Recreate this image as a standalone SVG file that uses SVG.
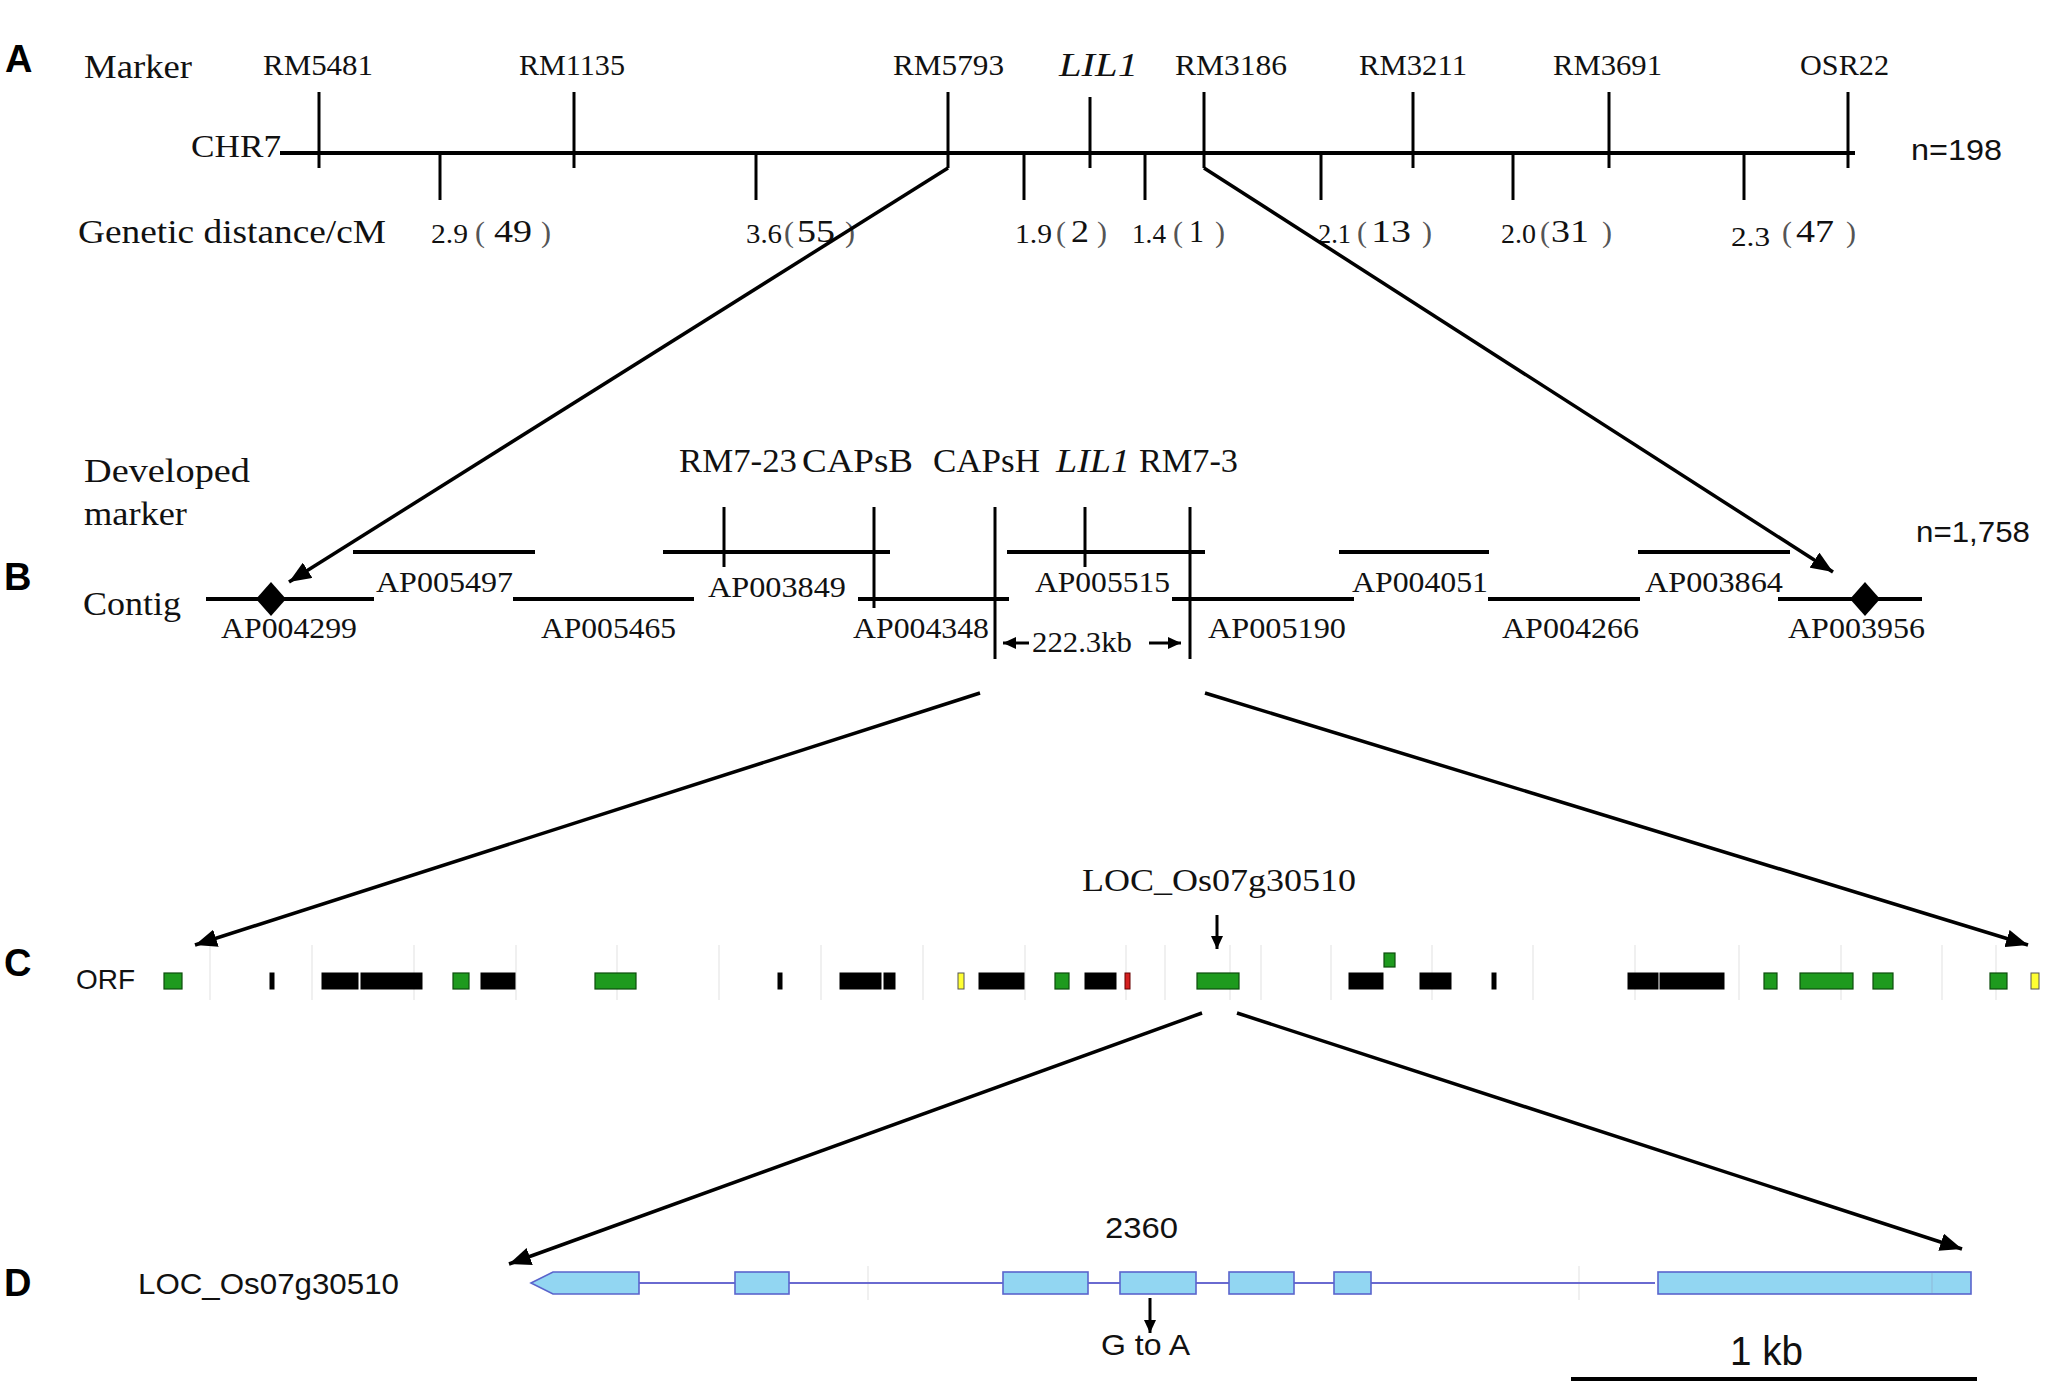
<svg xmlns="http://www.w3.org/2000/svg" width="2057" height="1388" viewBox="0 0 2057 1388">
<defs>
<style>
.serif{font-family:"Liberation Serif","Noto Sans CJK SC",serif;fill:#111}
.sans{font-family:"Liberation Sans","Noto Sans",sans-serif;fill:#111}
.panel{font-family:"Liberation Sans",sans-serif;font-weight:bold;font-size:38px;fill:#000}
.dn{font-family:"Liberation Serif",serif;font-size:27px;fill:#111}
.dp{font-family:"Liberation Serif",serif;font-size:32px;fill:#111}
.pr{font-family:"Liberation Serif",serif;font-size:30px;fill:#555}
.ln{stroke:#000;stroke-width:4;fill:none}
.tk{stroke:#000;stroke-width:3;fill:none}
.con{stroke:#000;stroke-width:3.5;fill:none}
.grid{stroke:#e6e6e6;stroke-width:1.2}
.g{fill:#1e9a1e;stroke:#0d4d0d;stroke-width:1.2}
.k{fill:#000;stroke:#000;stroke-width:1}
.y{fill:#ffff33;stroke:#555;stroke-width:1}
.r{fill:#d42020;stroke:#600;stroke-width:1}
.ex{fill:#92d6f2;stroke:#5a64cc;stroke-width:1.6}
</style>
<marker id="ah" markerUnits="userSpaceOnUse" markerWidth="24" markerHeight="18" refX="22" refY="9" orient="auto"><path d="M0,0 L22,9 L0,18 z" fill="#000"/></marker>
<marker id="as" markerUnits="userSpaceOnUse" markerWidth="14" markerHeight="12" refX="13" refY="6" orient="auto"><path d="M0,0 L13,6 L0,12 z" fill="#000"/></marker>
</defs>
<rect width="2057" height="1388" fill="#fff"/>

<!-- Panel A -->
<g id="panelA">
<text class="panel" x="5" y="72">A</text>
<text class="serif" x="84" y="78" font-size="34" textLength="108" lengthAdjust="spacingAndGlyphs">Marker</text>
<text class="serif" x="281" y="157" font-size="31" text-anchor="end" textLength="90" lengthAdjust="spacingAndGlyphs">CHR7</text>
<text class="serif" x="78" y="243" font-size="33" textLength="308" lengthAdjust="spacingAndGlyphs">Genetic distance/cM</text>
<text class="sans" x="1911" y="160" font-size="30" textLength="91" lengthAdjust="spacingAndGlyphs">n=198</text>
<line id="chr7" class="ln" x1="280" y1="153" x2="1855" y2="153"/>
</g>
<g id="markersA">
<g id="m-RM5481"><text class="serif" x="263" y="75" font-size="30" textLength="110" lengthAdjust="spacingAndGlyphs">RM5481</text><line class="tk" x1="319" y1="92" x2="319" y2="168"/></g>
<g id="m-RM1135"><text class="serif" x="519" y="75" font-size="30" textLength="106" lengthAdjust="spacingAndGlyphs">RM1135</text><line class="tk" x1="574" y1="92" x2="574" y2="168"/></g>
<g id="m-RM5793"><text class="serif" x="893" y="75" font-size="30" textLength="111" lengthAdjust="spacingAndGlyphs">RM5793</text><line class="tk" x1="948" y1="92" x2="948" y2="168"/></g>
<g id="m-LIL1"><text class="serif" x="1059" y="76" font-size="33" font-style="italic" textLength="79" lengthAdjust="spacingAndGlyphs">LIL1</text><line class="tk" x1="1090" y1="97" x2="1090" y2="168"/></g>
<g id="m-RM3186"><text class="serif" x="1175" y="75" font-size="30" textLength="112" lengthAdjust="spacingAndGlyphs">RM3186</text><line class="tk" x1="1204" y1="92" x2="1204" y2="168"/></g>
<g id="m-RM3211"><text class="serif" x="1359" y="75" font-size="30" textLength="108" lengthAdjust="spacingAndGlyphs">RM3211</text><line class="tk" x1="1413" y1="92" x2="1413" y2="168"/></g>
<g id="m-RM3691"><text class="serif" x="1553" y="75" font-size="30" textLength="109" lengthAdjust="spacingAndGlyphs">RM3691</text><line class="tk" x1="1609" y1="92" x2="1609" y2="168"/></g>
<g id="m-OSR22"><text class="serif" x="1800" y="75" font-size="30" textLength="89" lengthAdjust="spacingAndGlyphs">OSR22</text><line class="tk" x1="1848" y1="92" x2="1848" y2="168"/></g>
</g>
<g id="distancesA">
<g id="d1"><line class="tk" x1="440" y1="153" x2="440" y2="200"/><text class="dn" x="431" y="243" textLength="37" lengthAdjust="spacingAndGlyphs">2.9</text><text class="pr" x="475" y="242">(</text><text class="dp" x="494" y="242" textLength="38" lengthAdjust="spacingAndGlyphs">49</text><text class="pr" x="541" y="242">)</text></g>
<g id="d2"><line class="tk" x1="756" y1="153" x2="756" y2="200"/><text class="dn" x="746" y="243" textLength="36" lengthAdjust="spacingAndGlyphs">3.6</text><text class="pr" x="784" y="242">(</text><text class="dp" x="797" y="242" textLength="38" lengthAdjust="spacingAndGlyphs">55</text><text class="pr" x="845" y="242">)</text></g>
<g id="d3"><line class="tk" x1="1024" y1="153" x2="1024" y2="200"/><text class="dn" x="1015" y="243" textLength="37" lengthAdjust="spacingAndGlyphs">1.9</text><text class="pr" x="1056" y="242">(</text><text class="dp" x="1071" y="242" textLength="18" lengthAdjust="spacingAndGlyphs">2</text><text class="pr" x="1097" y="242">)</text></g>
<g id="d4"><line class="tk" x1="1145" y1="153" x2="1145" y2="200"/><text class="dn" x="1132" y="243" textLength="34" lengthAdjust="spacingAndGlyphs">1.4</text><text class="pr" x="1173" y="242">(</text><text class="dp" x="1189" y="242" textLength="15" lengthAdjust="spacingAndGlyphs">1</text><text class="pr" x="1215" y="242">)</text></g>
<g id="d5"><line class="tk" x1="1321" y1="153" x2="1321" y2="200"/><text class="dn" x="1318" y="243" textLength="33" lengthAdjust="spacingAndGlyphs">2.1</text><text class="pr" x="1357" y="242">(</text><text class="dp" x="1371" y="242" textLength="40" lengthAdjust="spacingAndGlyphs">13</text><text class="pr" x="1422" y="242">)</text></g>
<g id="d6"><line class="tk" x1="1513" y1="153" x2="1513" y2="200"/><text class="dn" x="1501" y="243" textLength="35" lengthAdjust="spacingAndGlyphs">2.0</text><text class="pr" x="1540" y="242">(</text><text class="dp" x="1551" y="242" textLength="38" lengthAdjust="spacingAndGlyphs">31</text><text class="pr" x="1602" y="242">)</text></g>
<g id="d7"><line class="tk" x1="1744" y1="153" x2="1744" y2="200"/><text class="dn" x="1731" y="246" textLength="39" lengthAdjust="spacingAndGlyphs">2.3</text><text class="pr" x="1782" y="242">(</text><text class="dp" x="1796" y="242" textLength="38" lengthAdjust="spacingAndGlyphs">47</text><text class="pr" x="1846" y="242">)</text></g>
</g>

<!-- Panel B -->
<g id="panelB">
<text class="panel" x="4" y="590">B</text>
<text class="serif" x="84" y="482" font-size="33" textLength="166" lengthAdjust="spacingAndGlyphs">Developed</text>
<text class="serif" x="84" y="525" font-size="33" textLength="103" lengthAdjust="spacingAndGlyphs">marker</text>
<text class="serif" x="83" y="615" font-size="33" textLength="98" lengthAdjust="spacingAndGlyphs">Contig</text>
<text class="sans" x="1916" y="542" font-size="30" textLength="114" lengthAdjust="spacingAndGlyphs">n=1,758</text>
</g>
<g id="devMarkers">
<g id="dm-RM7-23"><text class="serif" x="679" y="472" font-size="34" textLength="118" lengthAdjust="spacingAndGlyphs">RM7-23</text><line class="tk" x1="724" y1="507" x2="724" y2="567"/></g>
<g id="dm-CAPsB"><text class="serif" x="802" y="472" font-size="34" textLength="111" lengthAdjust="spacingAndGlyphs">CAPsB</text><line class="tk" x1="874" y1="507" x2="874" y2="608"/></g>
<g id="dm-CAPsH"><text class="serif" x="933" y="472" font-size="34" textLength="107" lengthAdjust="spacingAndGlyphs">CAPsH</text><line class="tk" x1="995" y1="507" x2="995" y2="659"/></g>
<g id="dm-LIL1"><text class="serif" x="1056" y="472" font-size="34" font-style="italic" textLength="74" lengthAdjust="spacingAndGlyphs">LIL1</text><line class="tk" x1="1085" y1="507" x2="1085" y2="567"/></g>
<g id="dm-RM7-3"><text class="serif" x="1139" y="472" font-size="34" textLength="99" lengthAdjust="spacingAndGlyphs">RM7-3</text><line class="tk" x1="1190" y1="507" x2="1190" y2="659"/></g>
</g>
<g id="contigs">
<g id="c-AP004299"><line class="ln" x1="206" y1="599" x2="374" y2="599"/><path d="M271,582 L286,599 L271,616 L256,599 z" fill="#000"/><text class="serif" x="221" y="638" font-size="30" textLength="136" lengthAdjust="spacingAndGlyphs">AP004299</text></g>
<g id="c-AP005497"><line class="ln" x1="353" y1="552" x2="535" y2="552"/><text class="serif" x="376" y="592" font-size="30" textLength="137" lengthAdjust="spacingAndGlyphs">AP005497</text></g>
<g id="c-AP005465"><line class="ln" x1="513" y1="599" x2="694" y2="599"/><text class="serif" x="541" y="638" font-size="30" textLength="135" lengthAdjust="spacingAndGlyphs">AP005465</text></g>
<g id="c-AP003849"><line class="ln" x1="663" y1="552" x2="890" y2="552"/><text class="serif" x="708" y="597" font-size="30" textLength="138" lengthAdjust="spacingAndGlyphs">AP003849</text></g>
<g id="c-AP004348"><line class="ln" x1="858" y1="599" x2="1009" y2="599"/><text class="serif" x="853" y="638" font-size="30" textLength="136" lengthAdjust="spacingAndGlyphs">AP004348</text></g>
<g id="c-AP005515"><line class="ln" x1="1007" y1="552" x2="1205" y2="552"/><text class="serif" x="1035" y="592" font-size="30" textLength="135" lengthAdjust="spacingAndGlyphs">AP005515</text></g>
<g id="c-AP005190"><line class="ln" x1="1172" y1="599" x2="1354" y2="599"/><text class="serif" x="1208" y="638" font-size="30" textLength="138" lengthAdjust="spacingAndGlyphs">AP005190</text></g>
<g id="c-AP004051"><line class="ln" x1="1339" y1="552" x2="1489" y2="552"/><text class="serif" x="1352" y="592" font-size="30" textLength="136" lengthAdjust="spacingAndGlyphs">AP004051</text></g>
<g id="c-AP004266"><line class="ln" x1="1488" y1="599" x2="1640" y2="599"/><text class="serif" x="1502" y="638" font-size="30" textLength="137" lengthAdjust="spacingAndGlyphs">AP004266</text></g>
<g id="c-AP003864"><line class="ln" x1="1638" y1="552" x2="1790" y2="552"/><text class="serif" x="1645" y="592" font-size="30" textLength="138" lengthAdjust="spacingAndGlyphs">AP003864</text></g>
<g id="c-AP003956"><line class="ln" x1="1778" y1="599" x2="1922" y2="599"/><path d="M1865,582 L1880,599 L1865,616 L1850,599 z" fill="#000"/><text class="serif" x="1788" y="638" font-size="30" textLength="137" lengthAdjust="spacingAndGlyphs">AP003956</text></g>
<g id="interval"><text class="serif" x="1032" y="652" font-size="30" textLength="100" lengthAdjust="spacingAndGlyphs">222.3kb</text></g>
</g>

<!-- Panel C -->
<g id="panelC">
<text class="panel" x="4" y="976">C</text>
<text class="sans" x="76" y="989" font-size="28" textLength="59" lengthAdjust="spacingAndGlyphs">ORF</text>
<text class="serif" x="1082" y="891" font-size="32" textLength="274" lengthAdjust="spacingAndGlyphs">LOC_Os07g30510</text>
</g>
<g id="orfGrid">
<line class="grid" x1="210" y1="945" x2="210" y2="1000"/><line class="grid" x1="312" y1="945" x2="312" y2="1000"/><line class="grid" x1="414" y1="945" x2="414" y2="1000"/><line class="grid" x1="516" y1="945" x2="516" y2="1000"/><line class="grid" x1="617" y1="945" x2="617" y2="1000"/><line class="grid" x1="719" y1="945" x2="719" y2="1000"/><line class="grid" x1="821" y1="945" x2="821" y2="1000"/><line class="grid" x1="923" y1="945" x2="923" y2="1000"/><line class="grid" x1="1025" y1="945" x2="1025" y2="1000"/><line class="grid" x1="1126" y1="945" x2="1126" y2="1000"/><line class="grid" x1="1165" y1="945" x2="1165" y2="1000"/><line class="grid" x1="1230" y1="945" x2="1230" y2="1000"/><line class="grid" x1="1261" y1="945" x2="1261" y2="1000"/><line class="grid" x1="1331" y1="945" x2="1331" y2="1000"/><line class="grid" x1="1432" y1="945" x2="1432" y2="1000"/><line class="grid" x1="1533" y1="945" x2="1533" y2="1000"/><line class="grid" x1="1635" y1="945" x2="1635" y2="1000"/><line class="grid" x1="1739" y1="945" x2="1739" y2="1000"/><line class="grid" x1="1841" y1="945" x2="1841" y2="1000"/><line class="grid" x1="1942" y1="945" x2="1942" y2="1000"/><line class="grid" x1="1996" y1="945" x2="1996" y2="1000"/>
</g>
<g id="orfs">
<rect class="g" x="164" y="973" width="18" height="16"/>
<rect class="k" x="270" y="973" width="4" height="16"/>
<rect class="k" x="322" y="973" width="36" height="16"/>
<rect class="k" x="361" y="973" width="61" height="16"/>
<rect class="g" x="453" y="973" width="16" height="16"/>
<rect class="k" x="481" y="973" width="34" height="16"/>
<rect class="g" x="595" y="973" width="41" height="16"/>
<rect class="k" x="778" y="973" width="4" height="16"/>
<rect class="k" x="840" y="973" width="41" height="16"/>
<rect class="k" x="884" y="973" width="11" height="16"/>
<rect class="y" x="958" y="973" width="6" height="16"/>
<rect class="k" x="979" y="973" width="45" height="16"/>
<rect class="g" x="1055" y="973" width="14" height="16"/>
<rect class="k" x="1085" y="973" width="31" height="16"/>
<rect class="r" x="1125" y="973" width="5" height="16"/>
<rect id="orf-LOC" class="g" x="1197" y="973" width="42" height="16"/>
<rect class="k" x="1349" y="973" width="34" height="16"/>
<rect class="g" x="1384" y="953" width="11" height="14"/>
<rect class="k" x="1420" y="973" width="31" height="16"/>
<rect class="k" x="1492" y="973" width="4" height="16"/>
<rect class="k" x="1628" y="973" width="30" height="16"/>
<rect class="k" x="1660" y="973" width="64" height="16"/>
<rect class="g" x="1764" y="973" width="13" height="16"/>
<rect class="g" x="1800" y="973" width="53" height="16"/>
<rect class="g" x="1873" y="973" width="20" height="16"/>
<rect class="g" x="1990" y="973" width="17" height="16"/>
<rect class="y" x="2031" y="973" width="8" height="16"/>
</g>

<!-- Panel D -->
<g id="panelD">
<text class="panel" x="4" y="1296">D</text>
<text class="sans" x="138" y="1294" font-size="30" textLength="261" lengthAdjust="spacingAndGlyphs">LOC_Os07g30510</text>
<text class="sans" x="1105" y="1238" font-size="29" textLength="73" lengthAdjust="spacingAndGlyphs">2360</text>
<text class="sans" x="1101" y="1355" font-size="29" textLength="89" lengthAdjust="spacingAndGlyphs">G to A</text>
<text class="sans" x="1730" y="1365" font-size="40" textLength="73" lengthAdjust="spacingAndGlyphs">1 kb</text>
<line id="scalebar" stroke="#000" stroke-width="4" x1="1571" y1="1379" x2="1977" y2="1379"/>
</g>
<g id="geneModel">
<line class="grid" x1="868" y1="1266" x2="868" y2="1300"/>
<line class="grid" x1="1579" y1="1266" x2="1579" y2="1300"/>
<line stroke="#6a6ad0" stroke-width="2.2" x1="639" y1="1283" x2="1655" y2="1283"/>
<polygon class="ex" points="531,1283 553,1272 639,1272 639,1294 553,1294"/>
<rect class="ex" x="735" y="1272" width="54" height="22"/>
<rect class="ex" x="1003" y="1272" width="85" height="22"/>
<rect class="ex" x="1120" y="1272" width="76" height="22"/>
<rect class="ex" x="1229" y="1272" width="65" height="22"/>
<rect class="ex" x="1334" y="1272" width="37" height="22"/>
<rect class="ex" x="1658" y="1272" width="313" height="22"/>
<line stroke="#8fb8d8" stroke-width="1" x1="1932" y1="1273" x2="1932" y2="1293"/>
</g>

<!-- Connectors -->
<g id="connectors">
<line class="con" x1="948" y1="168" x2="289" y2="582" marker-end="url(#ah)"/>
<line class="con" x1="1204" y1="168" x2="1833" y2="572" marker-end="url(#ah)"/>
<line class="con" x1="980" y1="693" x2="195" y2="945" marker-end="url(#ah)"/>
<line class="con" x1="1205" y1="693" x2="2028" y2="945" marker-end="url(#ah)"/>
<line class="con" x1="1202" y1="1013" x2="509" y2="1264" marker-end="url(#ah)"/>
<line class="con" x1="1237" y1="1013" x2="1962" y2="1249" marker-end="url(#ah)"/>
<line class="tk" x1="1029" y1="643" x2="1003" y2="643" marker-end="url(#as)"/>
<line class="tk" x1="1149" y1="643" x2="1181" y2="643" marker-end="url(#as)"/>
<line class="tk" x1="1217" y1="915" x2="1217" y2="949" marker-end="url(#as)"/>
<line class="tk" x1="1150" y1="1298" x2="1150" y2="1333" marker-end="url(#as)"/>
</g>
</svg>
